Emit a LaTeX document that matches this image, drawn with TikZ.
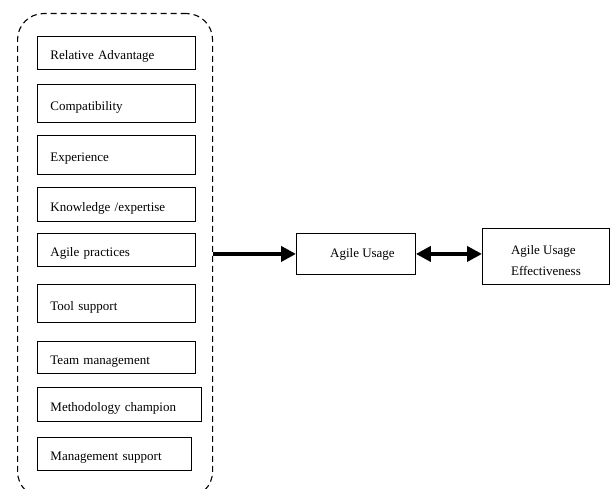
\documentclass[tikz,border=0pt]{standalone}
\usepackage{fontspec}
\setmainfont{Liberation Serif}
\usetikzlibrary{arrows.meta}
\tikzset{
  factor/.style={draw, line width=0.9pt, anchor=north west, inner xsep=13pt,
    inner ysep=0pt, align=left, text height=13.5pt, text depth=0pt,
    font=\fontsize{13}{15}\selectfont},
  outcome/.style={draw, line width=0.9pt, inner sep=0pt,
    font=\fontsize{13}{21}\selectfont},
  grouping/.style={draw, line width=1.1pt, dash pattern=on 6pt off 4pt,
    rounded corners=26pt, inner sep=0pt},
  flow/.style={line width=4pt, -{Triangle[length=15pt,width=15pt]}},
  mutual/.style={line width=4pt, {Triangle[length=15pt,width=15pt]}-{Triangle[length=15pt,width=15pt]}}
}
\begin{document}
\begin{tikzpicture}[x=1pt,y=-1pt]
\useasboundingbox (0,0) rectangle (610,489);
\clip (0,0) rectangle (610,489);
\fill[white] (0,0) rectangle (610,489);

% dashed frame around the adoption factors
\node[grouping, minimum width=195pt, minimum height=484pt, anchor=north west] (group) at (17,13) {};

% adoption factors
\node[factor, text width=132pt, minimum height=33pt] (f1) at (37,36) {Relative Advantage};
\node[factor, text width=132pt, minimum height=38pt] (f2) at (37,84) {Compatibility};
\node[factor, text width=132pt, minimum height=39pt] (f3) at (37,135) {Experience};
\node[factor, text width=132pt, minimum height=34pt] (f4) at (37,187) {Knowledge /expertise};
\node[factor, text width=132pt, minimum height=33pt] (f5) at (37,233) {Agile practices};
\node[factor, text width=132pt, minimum height=38pt] (f6) at (37,284) {Tool support};
\node[factor, text width=132pt, minimum height=32pt] (f7) at (37,341) {Team management};
\node[factor, text width=138pt, minimum height=34pt] (f8) at (37,387) {Methodology champion};
\node[factor, text width=128pt, minimum height=33pt] (f9) at (37,437) {Management support};

% usage and its effectiveness
\node[outcome, minimum width=119pt, minimum height=41pt, anchor=north west] (usage) at (296,233) {\hspace{13pt}Agile Usage};
\node[outcome, minimum width=127pt, minimum height=56pt, anchor=north west] (effect) at (482,228)
  {\raisebox{-4pt}[\height][\depth]{\begin{tabular}{@{}l@{}}Agile Usage\\Effectiveness\end{tabular}}};

% connectors
\draw[flow] (group.east |- usage.west) -- (usage.west);
\draw[mutual] (usage.east) -- (effect.west |- usage.east);
\end{tikzpicture}
\end{document}
